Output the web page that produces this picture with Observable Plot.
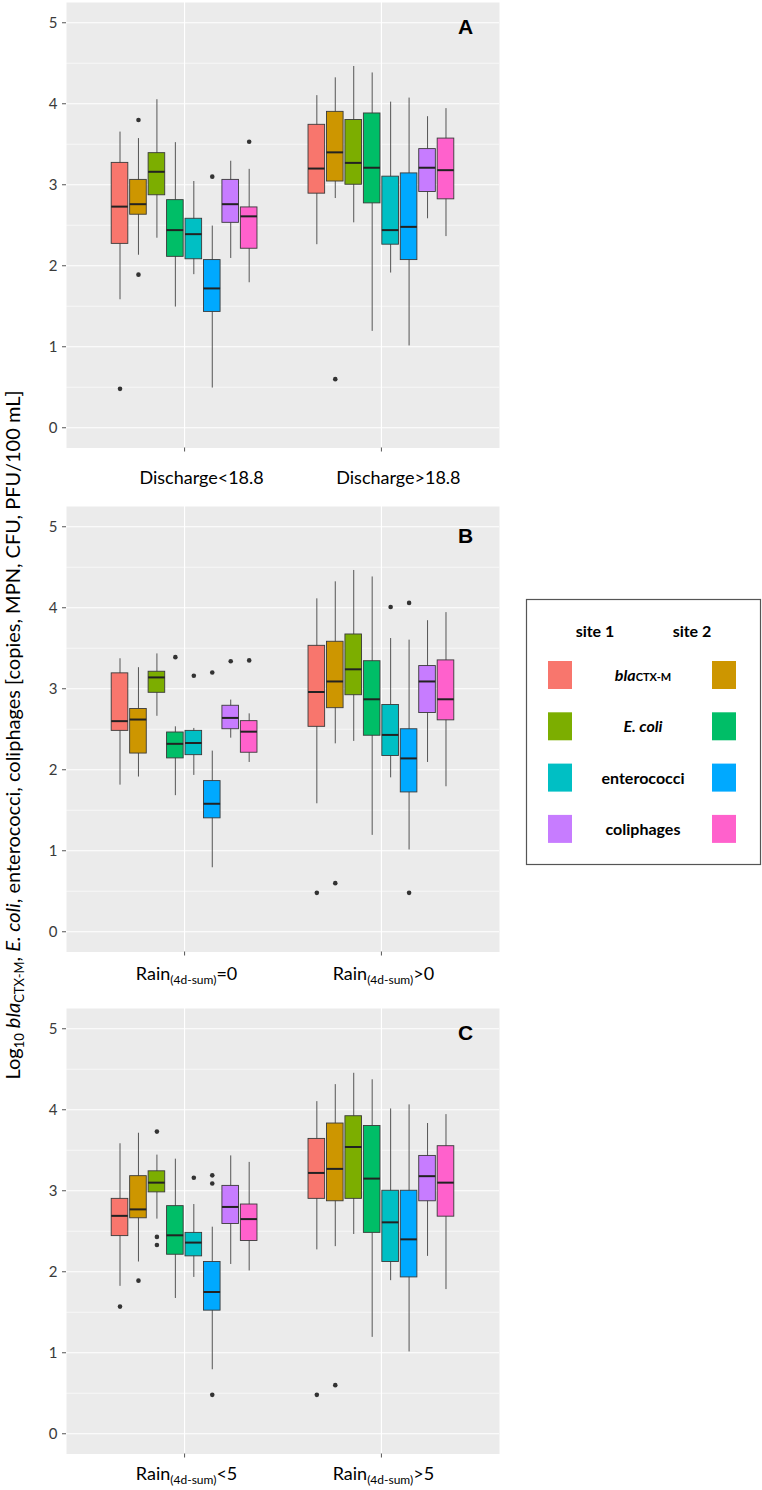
<!DOCTYPE html>
<html><head><meta charset="utf-8">
<script src="https://cdn.jsdelivr.net/npm/d3@7"></script>
<script src="https://cdn.jsdelivr.net/npm/@observablehq/plot@0.6"></script>
<style>
body{margin:0;background:#fff;}
#page{position:relative;width:762px;height:1490px;overflow:hidden;font-family:Lato,sans-serif;}
.panel{position:absolute;left:0;}
</style></head><body><div id="page"></div>
<script>
// ---- data ----
const seriesNames = ["blaCTX-M site 1","blaCTX-M site 2","E. coli site 1","E. coli site 2","enterococci site 1","enterococci site 2","coliphages site 1","coliphages site 2"];
const palette = ["#F8766D","#CD9600","#7CAE00","#00BE67","#00BFC4","#00A9FF","#C77CFF","#FF61CC"];
const legendTargets = ["blaCTX-M","E. coli","enterococci","coliphages"];
const legendSites = ["site 1","site 2"];
const yTicks = [0,1,2,3,4,5];

// Panel A (group 1: 8 boxes, then group 2: 8 boxes)
const groupsA = ["Discharge<18.8","Discharge>18.8"];
const lowA  = [1.58,2.13,2.34,1.49,1.89,0.49,2.09,1.79, 2.26,2.83,2.53,1.19,1.91,1.01,2.58,2.36];
const q1A   = [2.27,2.63,2.87,2.11,2.08,1.43,2.53,2.21, 2.89,3.04,3.00,2.77,2.26,2.07,2.91,2.82];
const medA  = [2.73,2.76,3.16,2.44,2.39,1.72,2.76,2.61, 3.20,3.40,3.27,3.21,2.44,2.48,3.21,3.18];
const q3A   = [3.27,3.06,3.39,2.81,2.58,2.07,3.06,2.72, 3.74,3.90,3.80,3.88,3.10,3.14,3.44,3.57];
const highA = [3.65,3.57,4.05,3.52,3.04,2.49,3.29,3.19, 4.10,4.32,4.46,4.38,4.02,4.07,3.84,3.94];
const outA  = [[0,0,0.48],[0,1,3.80],[0,1,1.89],[0,5,3.10],[0,7,3.53],[1,1,0.60]];

// Panel B
const groupsB = ["Rain(4d-sum)=0","Rain(4d-sum)>0"];
const lowB  = [1.81,1.91,2.66,1.68,1.93,0.79,2.39,2.09, 1.58,2.32,2.35,1.19,1.90,1.01,2.09,1.79];
const q1B   = [2.48,2.20,2.95,2.14,2.18,1.40,2.50,2.21, 2.53,2.76,2.92,2.42,2.17,1.72,2.70,2.61];
const medB  = [2.60,2.62,3.14,2.32,2.33,1.58,2.64,2.47, 2.96,3.09,3.24,2.87,2.43,2.14,3.09,2.87];
const q3B   = [3.19,2.75,3.21,2.46,2.48,1.86,2.79,2.60, 3.53,3.58,3.67,3.34,2.80,2.50,3.28,3.35];
const highB = [3.37,3.26,3.43,2.53,2.51,2.23,2.86,2.69, 4.11,4.32,4.46,4.38,3.62,3.60,3.84,3.94];
const outB  = [[0,3,3.39],[0,4,3.16],[0,5,3.20],[0,6,3.34],[0,7,3.35],[1,0,0.48],[1,1,0.60],[1,4,4.01],[1,5,4.06],[1,5,0.48]];

// Panel C
const groupsC = ["Rain(4d-sum)<5","Rain(4d-sum)>5"];
const lowC  = [1.82,2.12,2.65,1.67,1.93,0.79,2.09,2.01, 2.27,2.31,2.46,1.19,1.89,1.01,2.19,1.78];
const q1C   = [2.44,2.66,2.98,2.21,2.19,1.52,2.59,2.38, 2.90,2.87,2.90,2.48,2.12,1.93,2.87,2.68];
const medC  = [2.69,2.77,3.10,2.45,2.36,1.75,2.80,2.65, 3.22,3.27,3.54,3.15,2.61,2.40,3.18,3.10];
const q3C   = [2.90,3.18,3.24,2.81,2.48,2.12,3.06,2.83, 3.64,3.83,3.92,3.80,3.00,3.00,3.43,3.55];
const highC = [3.58,3.71,3.44,3.39,2.83,2.55,3.43,3.35, 4.10,4.31,4.45,4.37,4.01,4.06,3.83,3.94];
const outC  = [[0,0,1.57],[0,1,1.89],[0,2,3.73],[0,2,2.43],[0,2,2.33],[0,4,3.16],[0,5,3.19],[0,5,3.09],[0,5,0.48],[1,0,0.48],[1,1,0.60]];

// ---- layout ----
const DODGE = 0.75 / 8;
const HALF = DODGE * 0.9 / 2;
const xPos = (g, s) => g + 1 + (s - 3.5) * DODGE;
const page = document.getElementById("page");

function panel(cfg) {
  const boxes = [];
  for (let g = 0; g < 2; g++) for (let s = 0; s < 8; s++) {
    const k = g * 8 + s;
    boxes.push({g, s, series: seriesNames[s], low: cfg.low[k], q1: cfg.q1[k], med: cfg.med[k], q3: cfg.q3[k], high: cfg.high[k]});
  }
  const outs = cfg.out.map(([g, s, v]) => ({g, s, v}));
  const svg = Plot.plot({
    width: 510, height: 520,
    marginLeft: 66, marginRight: 11, marginTop: 20, marginBottom: 54.5,
    x: {domain: [0.4, 2.6], label: null},
    y: {domain: [-0.25, 5.25], label: null},
    color: {domain: seriesNames, range: palette},
    style: {fontFamily: "Lato, sans-serif", overflow: "visible", background: "transparent"},
    marks: [
      Plot.frame({fill: "#EBEBEB", stroke: "none"}),
      Plot.gridY({ticks: d3.range(0.5, 5, 1), stroke: "white", strokeOpacity: 1, strokeWidth: 0.6}),
      Plot.gridY({ticks: yTicks, stroke: "white", strokeOpacity: 1, strokeWidth: 1.1}),
      Plot.gridX({ticks: [1, 2], stroke: "white", strokeOpacity: 1, strokeWidth: 1.1}),
      Plot.axisY({ticks: yTicks, tickFormat: d => String(d), tickSize: 4, tickPadding: 5, stroke: "#555", fill: "#3a3a3a", fontSize: 15}),
      Plot.axisX({ticks: [1, 2], tickSize: 4, text: null, stroke: "#555"}),
      Plot.axisX({ticks: [1, 2], tickSize: 0, tickPadding: cfg.pad, dx: cfg.dx, tickFormat: i => cfg.groups[i - 1], fill: "black", fontSize: 18}),
      Plot.ruleX(boxes, {x: d => xPos(d.g, d.s), y1: "low", y2: "high", stroke: "#444", strokeWidth: 0.9}),
      Plot.rect(boxes, {x1: d => xPos(d.g, d.s) - HALF, x2: d => xPos(d.g, d.s) + HALF, y1: "q1", y2: "q3", fill: "series", stroke: "#3a3a3a", strokeWidth: 0.9}),
      Plot.ruleY(boxes, {y: "med", x1: d => xPos(d.g, d.s) - HALF, x2: d => xPos(d.g, d.s) + HALF, stroke: "#222", strokeWidth: 2}),
      Plot.dot(outs, {x: d => xPos(d.g, d.s), y: "v", r: 2.3, fill: "#333", stroke: "none"}),
      Plot.text([cfg.letter], {frameAnchor: "top-right", textAnchor: "middle", lineAnchor: "middle", dx: -34, dy: cfg.letterDy, fontSize: 21, fontWeight: "bold", fontFamily: "Liberation Sans, Arial, sans-serif", fill: "black"})
    ]
  });
  // subscripts in the x labels
  d3.select(svg).selectAll('g[aria-label="x-axis tick label"] text').each(function () {
    const t = this.textContent;
    const m = t.match(/^(.*?)\((4d-sum)\)(.*)$/);
    if (m) {
      const sel = d3.select(this);
      sel.text(null);
      sel.append("tspan").text(m[1]);
      sel.append("tspan").attr("font-size", 12).attr("dy", 4).text("(" + m[2] + ")");
      sel.append("tspan").attr("dy", -4).text(m[3]);
    }
  });
  svg.classList.add("panel");
  svg.style.top = cfg.top + "px";
  page.appendChild(svg);
}

panel({groups: groupsA, low: lowA, q1: q1A, med: medA, q3: q3A, high: highA, out: outA, letter: "A", top: -18.5, pad: 23, dx: 17, letterDy: 24.5});
panel({groups: groupsB, low: lowB, q1: q1B, med: medB, q3: q3B, high: highB, out: outB, letter: "B", top: 485.75, pad: 15, dx: 2, letterDy: 29.5});
panel({groups: groupsC, low: lowC, q1: q1C, med: medC, q3: q3C, high: highC, out: outC, letter: "C", top: 988, pad: 13, dx: 2, letterDy: 25});

// ---- y-axis title ----
const ttl = d3.select(page).append("svg")
  .attr("width", 40).attr("height", 1490)
  .style("position", "absolute").style("left", "0px").style("top", "0px");
const tt = ttl.append("text")
  .attr("transform", "translate(20,735) rotate(-90)")
  .attr("text-anchor", "middle")
  .attr("font-family", "Lato, sans-serif").attr("font-size", 20).attr("fill", "black");
tt.append("tspan").text("Log");
tt.append("tspan").attr("font-size", 13).attr("dy", 4).text("10");
tt.append("tspan").attr("dy", -4).text(" ");
tt.append("tspan").attr("font-style", "italic").text("bla");
tt.append("tspan").attr("font-size", 13).attr("dy", 4).text("CTX-M");
tt.append("tspan").attr("dy", -4).text(", ");
tt.append("tspan").attr("font-style", "italic").text("E. coli");
tt.append("tspan").text(", enterococci, coliphages [copies, MPN, CFU, PFU/100 mL]");

// ---- legend ----
const lg = d3.select(page).append("svg")
  .attr("width", 237).attr("height", 268)
  .style("position", "absolute").style("left", "525px").style("top", "598px");
lg.append("rect").attr("x", 1.5).attr("y", 1.5).attr("width", 234).attr("height", 265)
  .attr("fill", "white").attr("stroke", "#555").attr("stroke-width", 1.2);
const lgFont = "Lato, sans-serif";
legendSites.forEach((s, j) => {
  lg.append("text").attr("x", j === 0 ? 70 : 167).attr("y", 39).attr("text-anchor", "middle")
    .attr("font-family", lgFont).attr("font-weight", "bold").attr("font-size", 16).text(s);
});
legendTargets.forEach((t, i) => {
  const cy = 77 + i * 51.3;
  lg.append("rect").attr("x", 23).attr("y", cy - 14).attr("width", 24).attr("height", 28).attr("fill", palette[2 * i]);
  lg.append("rect").attr("x", 187).attr("y", cy - 14).attr("width", 24).attr("height", 28).attr("fill", palette[2 * i + 1]);
  const tx = lg.append("text").attr("x", 118).attr("y", cy + 6).attr("text-anchor", "middle")
    .attr("font-family", lgFont).attr("font-weight", "bold").attr("font-size", 16);
  if (t.startsWith("bla")) {
    tx.append("tspan").attr("font-style", "italic").text("bla");
    tx.append("tspan").attr("font-size", 11).text(t.slice(3));
  } else if (t === "E. coli") {
    tx.append("tspan").attr("font-style", "italic").text(t);
  } else {
    tx.text(t);
  }
});
</script></body></html>
